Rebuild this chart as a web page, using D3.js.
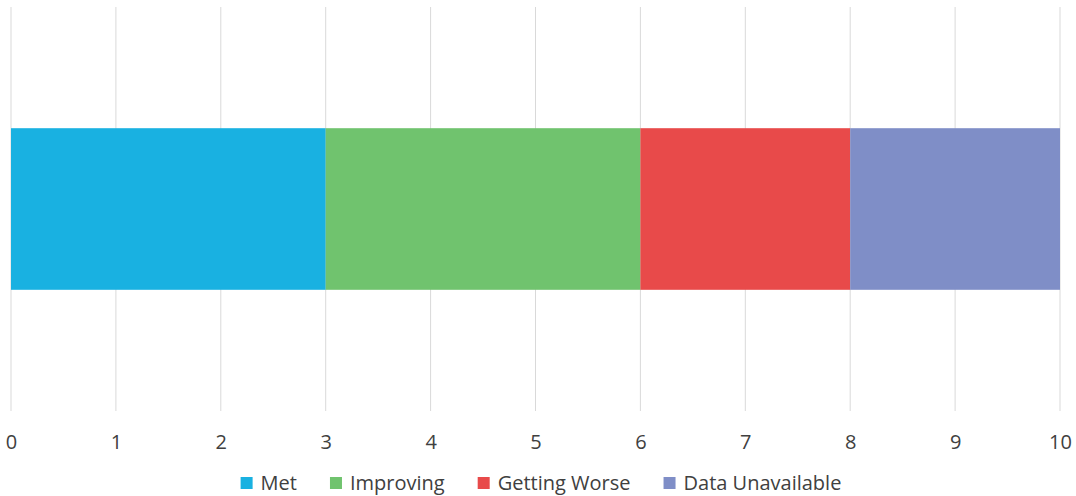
<!DOCTYPE html>
<html>
<head>
<meta charset="utf-8">
<script src="https://cdn.jsdelivr.net/npm/d3@7"></script>
<style>
  body { margin: 0; background: #fff; }
  text { font-family: "Open Sans", sans-serif; fill: #404040; }
</style>
</head>
<body>
<svg width="1076" height="496"></svg>
<script>
const categories = ["Status"];
const seriesNames = ["Met", "Improving", "Getting Worse", "Data Unavailable"];
const seriesValues = [3, 3, 2, 2];
const seriesColors = ["#19b1e1", "#70c36e", "#e84a4a", "#7f8ec7"];
const xTicks = [0, 1, 2, 3, 4, 5, 6, 7, 8, 9, 10];

const svg = d3.select('svg');
const WIDTH = +svg.attr('width');
const HEIGHT = +svg.attr('height');

const margin = {top: 7, left: 11, right: 16, bottom: 85};
const width = WIDTH - margin.left - margin.right;
const height = HEIGHT - margin.top - margin.bottom;

// one row table for d3.stack
let row = {cat: categories[0]};
seriesNames.forEach((s, i) => row[s] = seriesValues[i]);
const stacked = d3.stack().keys(seriesNames)([row]);

const xScale = d3.scaleLinear().domain([0, 10]).range([0, width]);
const yScale = d3.scaleBand().domain(categories).range([0, height]).paddingInner(0.6).paddingOuter(0.3);
const color = d3.scaleOrdinal().domain(seriesNames).range(seriesColors);

const layer = svg.append('g')
    .attr('transform', 'translate(' + margin.left + ',' + margin.top + ')');

// vertical gridlines
layer.append('g')
    .selectAll('line')
    .data(xTicks)
    .enter().append('line')
    .attr('x1', d => xScale(d))
    .attr('x2', d => xScale(d))
    .attr('y1', 0)
    .attr('y2', height)
    .style('stroke', '#d9d9d9')
    .style('stroke-width', 1);

layer.selectAll('.series')
    .data(stacked)
    .enter().append('rect')
    .attr('class', 'series')
    .attr('x', d => xScale(d[0][0]))
    .attr('y', d => yScale(d[0].data.cat))
    .attr('width', d => xScale(d[0][1]) - xScale(d[0][0]))
    .attr('height', yScale.bandwidth())
    .style('fill', d => color(d.key));

// x axis labels
let xAxis = d3.axisBottom(xScale).tickValues(xTicks).tickSize(0).tickPadding(24);
let axisG = layer.append('g')
    .attr('transform', 'translate(0,' + height + ')')
    .call(xAxis);
axisG.select('.domain').remove();
axisG.selectAll('text')
    .style('font-size', '20px')
    .style('fill', '#404040')
    .style('font-family', '"Open Sans", sans-serif');

// legend
const gap = 33;
const legend = svg.append('g').attr('transform', 'translate(0,483)');
let items = legend.selectAll('.legend-item')
    .data(seriesNames)
    .enter().append('g')
    .attr('class', 'legend-item');
items.append('rect')
    .attr('width', 12)
    .attr('height', 12)
    .attr('y', -6)
    .style('fill', d => color(d));
items.append('text')
    .attr('x', 20)
    .attr('dy', '0.35em')
    .style('font-size', '20px')
    .text(d => d);

let offsets = [];
let pos = 0;
items.each(function(d) {
    offsets.push(pos);
    pos += 20 + this.querySelector('text').getComputedTextLength() + gap;
});
let total = pos - gap;
let start = (WIDTH - total) / 2 + 3;
items.attr('transform', (d, i) => 'translate(' + (start + offsets[i]) + ',0)');
</script>
</body>
</html>
